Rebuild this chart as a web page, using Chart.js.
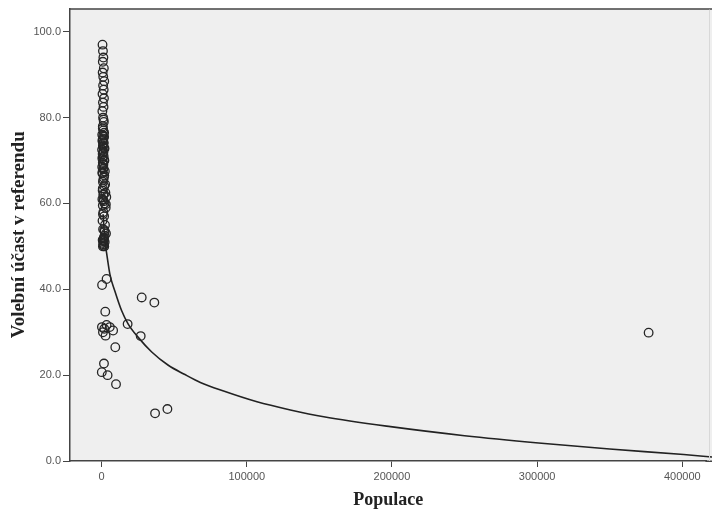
<!DOCTYPE html>
<html>
<head>
<meta charset="utf-8">
<script src="https://cdn.jsdelivr.net/npm/chart.js@4/dist/chart.umd.min.js"></script>
<style>
  html, body { margin: 0; padding: 0; background: #fff; }
  #wrap { width: 712px; height: 516px; }
</style>
</head>
<body>
<div id="wrap"><canvas id="scatterChart"></canvas></div>
<script>
// population and turnout of each municipality
const populace = [
    600, 900, 1200, 800, 1500, 700, 1100, 1800, 1000, 1400, 600, 1600, 900, 1300, 500,
    1000, 1500, 800, 1200, 400, 1700, 1000, 600, 1300, 900, 1600, 300, 1100, 700, 1400,
    500, 1900, 800, 1200, 400, 1000, 2200, 600, 1500, 900, 1800, 700, 2600, 1100, 3200,
    500, 1400, 2000, 800, 2800, 1200, 1700, 600, 2300, 1000, 3000, 1500, 700, 2100, 1200,
    1800, 900,
    1300, 800, 1700, 1100, 600, 1400, 900, 2000, 1200, 700, 1600, 1000, 1300, 500, 1800,
    1100, 2400, 800, 1500, 1200, 2900, 900, 2100, 1400,
    1600, 1100, 2000, 1300, 1800, 1500,
    3400, 300, 27600, 36300, 2500, 200, 3400, 5600, 7900, 1800, 2700, 900, 17900, 26900,
    9400, 1600, 100, 4100, 9900, 36800, 45300, 376800
];
const ucast = [
    97.0, 95.5, 94.0, 93.0, 91.5, 90.5, 89.5, 88.5, 87.5, 86.5, 85.5, 84.5, 83.5, 82.5, 81.5,
    80.0, 79.0, 78.0, 77.0, 76.0, 75.5, 75.0, 74.5, 74.0, 73.5, 73.0, 72.5, 72.0, 71.5, 71.0,
    70.5, 70.0, 69.5, 69.0, 68.5, 68.0, 67.5, 67.0, 66.0, 65.0, 64.0, 63.0, 62.5, 62.0, 61.5,
    61.0, 60.5, 60.0, 59.5, 59.0, 58.0, 57.0, 56.0, 55.0, 54.0, 53.0, 52.0, 51.5, 51.0, 50.5,
    50.0, 50.0,
    79.5, 77.5, 76.5, 75.8, 74.8, 74.2, 73.2, 72.8, 71.8, 70.8, 70.2, 69.2, 68.2, 67.2, 66.5,
    65.5, 64.5, 63.5, 62.2, 60.8, 59.8, 57.5, 53.5, 51.2,
    51.8, 50.8, 52.5, 50.2, 53.8, 51.5,
    42.4, 41.0, 38.1, 36.9, 34.8, 31.2, 31.7, 31.2, 30.4, 30.8, 29.2, 30.0, 31.9, 29.1,
    26.5, 22.7, 20.7, 20.0, 17.9, 11.1, 12.1, 29.9
];

// fitted curve
const krivkaPopulace = [1000, 2300, 3400, 5700, 9200, 13800, 18300, 25200, 34500, 45900, 57000,
    68000, 84000, 107000, 130000, 153000, 199000, 250000, 301000, 350000, 401000, 421000];
const krivkaUcast = [57.5, 51.0, 48.5, 43.5, 39.5, 35.0, 31.9, 28.8, 25.4, 22.3, 20.2,
    18.3, 16.3, 13.8, 11.9, 10.3, 8.0, 5.9, 4.2, 2.8, 1.5, 0.9];

const xTicks = [0, 100000, 200000, 300000, 400000];
const yTicks = [0, 20, 40, 60, 80, 100];

const plotBackground = {
    id: 'plotBackground',
    beforeDraw(chart) {
        const ctx = chart.ctx;
        const a = chart.chartArea;
        ctx.save();
        ctx.fillStyle = '#ffffff';
        ctx.fillRect(0, 0, chart.width, chart.height);
        ctx.fillStyle = '#efefef';
        ctx.fillRect(a.left, a.top, chart.width - a.left, a.bottom - a.top);
        ctx.restore();
    },
    afterDraw(chart) {
        const ctx = chart.ctx;
        const a = chart.chartArea;
        ctx.save();
        // top frame line
        ctx.strokeStyle = '#444';
        ctx.lineWidth = 1.5;
        ctx.beginPath();
        ctx.moveTo(a.left, a.top + 0.5);
        ctx.lineTo(chart.width, a.top + 0.5);
        ctx.stroke();
        // x axis line carried to the edge
        ctx.beginPath();
        ctx.moveTo(a.right - 1, a.bottom + 0.25);
        ctx.lineTo(chart.width, a.bottom + 0.25);
        ctx.stroke();
        // faint right frame
        ctx.strokeStyle = '#d8d8d8';
        ctx.lineWidth = 1;
        ctx.beginPath();
        ctx.moveTo(chart.width - 2.5, a.top + 1);
        ctx.lineTo(chart.width - 2.5, a.bottom);
        ctx.stroke();
        ctx.restore();
    }
};

function createScatterChart() {
    const ctx = document.getElementById('scatterChart').getContext('2d');

    new Chart(ctx, {
        type: 'scatter',
        data: {
            datasets: [{
                label: 'Obce',
                data: populace.map((p, i) => ({ x: p, y: ucast[i] })),
                pointStyle: 'circle',
                pointRadius: 4.3,
                pointBorderWidth: 1.3,
                borderColor: '#262626',
                backgroundColor: 'rgba(0,0,0,0)'
            }, {
                label: 'Křivka',
                data: krivkaPopulace.map((p, i) => ({ x: p, y: krivkaUcast[i] })),
                showLine: true,
                cubicInterpolationMode: 'monotone',
                pointRadius: 0,
                borderColor: '#222222',
                borderWidth: 1.6,
                clip: { left: 0, top: 0, right: 6, bottom: 0 }
            }]
        },
        options: {
            responsive: true,
            maintainAspectRatio: false,
            animation: false,
            layout: {
                padding: { top: 6, right: 0, left: 0, bottom: 0 }
            },
            plugins: {
                legend: { display: false },
                tooltip: { enabled: false }
            },
            scales: {
                x: {
                    type: 'linear',
                    min: -21800,
                    max: 416600,
                    afterBuildTicks: (scale) => { scale.ticks = xTicks.map(v => ({ value: v })); },
                    afterFit: (scale) => { scale.height = 55; },
                    border: { display: true, color: '#444', width: 1.5 },
                    grid: { drawOnChartArea: false, drawTicks: true, tickLength: 6, color: '#444' },
                    ticks: {
                        color: '#555',
                        font: { family: 'Liberation Sans', size: 11 },
                        padding: 3,
                        maxRotation: 0,
                        callback: (v) => String(v)
                    },
                    title: {
                        display: true,
                        text: 'Populace',
                        color: '#222',
                        font: { family: 'Liberation Serif', size: 18, weight: 'bold' },
                        padding: { top: 2, bottom: 5 }
                    }
                },
                y: {
                    type: 'linear',
                    min: 0,
                    max: 105.4,
                    afterBuildTicks: (scale) => { scale.ticks = yTicks.map(v => ({ value: v })); },
                    afterFit: (scale) => { scale.width = 70; },
                    border: { display: true, color: '#444', width: 1.5 },
                    grid: { drawOnChartArea: false, drawTicks: true, tickLength: 7, color: '#444' },
                    ticks: {
                        color: '#555',
                        font: { family: 'Liberation Sans', size: 11 },
                        padding: 2,
                        callback: (v) => v.toFixed(1)
                    },
                    title: {
                        display: true,
                        text: 'Volební účast v referendu',
                        color: '#222',
                        font: { family: 'Liberation Serif', size: 19, weight: 'bold' },
                        padding: { top: 8, bottom: 2 }
                    }
                }
            }
        },
        plugins: [plotBackground]
    });
}

createScatterChart();
</script>
</body>
</html>
